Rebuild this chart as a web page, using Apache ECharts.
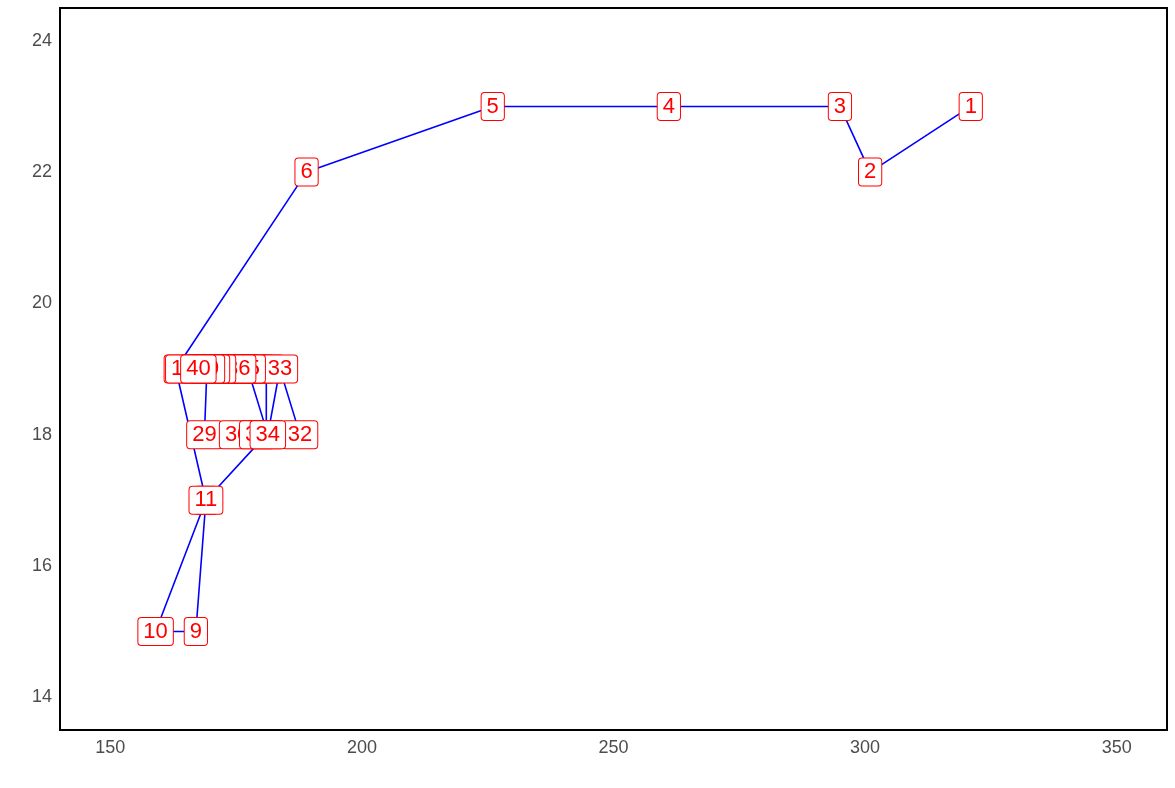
<!DOCTYPE html>
<html>
<head>
<meta charset="utf-8">
<title>path chart</title>
<script src="https://cdn.jsdelivr.net/npm/echarts@6/dist/echarts.min.js"></script>
<style>
  html, body { margin: 0; padding: 0; background: #fff; }
  #chart { width: 1175px; height: 788px; }
</style>
</head>
<body>
<div id="chart"></div>
<script>
// point ids, drawn as labels, in path order
const pointIds = ['1','2','3','4','5','6','7','8','9','10',
  '11','12','13','14','15','16','17','18','19','20',
  '21','22','23','24','25','26','27','28','29','30',
  '31','32','33','34','35','36','37','38','39','40']
const xValues = [321, 301, 295, 261, 226, 189, 163, 169, 167, 159,
  169, 181, 181, 179, 176, 173, 170, 167.5, 164.5, 168,
  171, 173, 176, 178, 175, 172, 170, 169.2, 168.7, 175.2,
  179.2, 187.7, 183.7, 181.3, 177.3, 175.4, 171.4, 170.2, 169.2, 167.5]
const yValues = [23, 22, 23, 23, 23, 22, 19, 17, 15, 15,
  17, 18, 19, 19, 19, 19, 19, 19, 19, 19,
  19, 19, 19, 19, 19, 19, 19, 19, 18, 18,
  18, 18, 19, 18, 19, 19, 19, 19, 19, 19]
const xTicks = [150, 200, 250, 300, 350]
const yTicks = [14, 16, 18, 20, 22, 24]

const pathData = xValues.map((x, i) => [x, yValues[i]])
const labelData = xValues.map((x, i) => [x, yValues[i], pointIds[i]])

function onTick(v, ticks) {
  return ticks.some(t => Math.abs(t - v) < 1e-6)
}

const chart = echarts.init(document.getElementById('chart'))
chart.setOption({
  animation: false,
  textStyle: { fontFamily: 'Liberation Sans, Arial, sans-serif' },
  grid: {
    left: 60,
    right: 8,
    top: 8,
    bottom: 58,
    show: true,
    backgroundColor: '#fff',
    borderColor: '#000',
    borderWidth: 2
  },
  xAxis: {
    type: 'value',
    min: 140,
    max: 360,
    interval: 10,
    axisLine: { show: false },
    axisTick: { show: false },
    splitLine: { show: false },
    axisLabel: {
      color: '#4d4d4d',
      fontSize: 18,
      margin: 9,
      formatter: v => onTick(v, xTicks) ? String(v) : ''
    }
  },
  yAxis: {
    type: 'value',
    min: 13.5,
    max: 24.5,
    interval: 0.5,
    axisLine: { show: false },
    axisTick: { show: false },
    splitLine: { show: false },
    axisLabel: {
      color: '#4d4d4d',
      fontSize: 18,
      margin: 8,
      formatter: v => onTick(v, yTicks) ? String(Math.round(v)) : ''
    }
  },
  series: [
    {
      type: 'line',
      data: pathData,
      showSymbol: false,
      symbol: 'none',
      lineStyle: { color: '#0000ff', width: 1.6 },
      z: 2
    },
    {
      type: 'scatter',
      data: labelData,
      symbolSize: 1,
      itemStyle: { color: 'transparent', opacity: 1 },
      z: 3,
      label: {
        show: true,
        position: 'inside',
        formatter: p => p.value[2],
        color: '#ff0000',
        fontSize: 22,
        backgroundColor: '#ffffff',
        borderColor: '#ff0000',
        borderWidth: 1,
        borderRadius: 3,
        padding: [3, 5, 2, 5]
      }
    }
  ]
})
</script>
</body>
</html>
